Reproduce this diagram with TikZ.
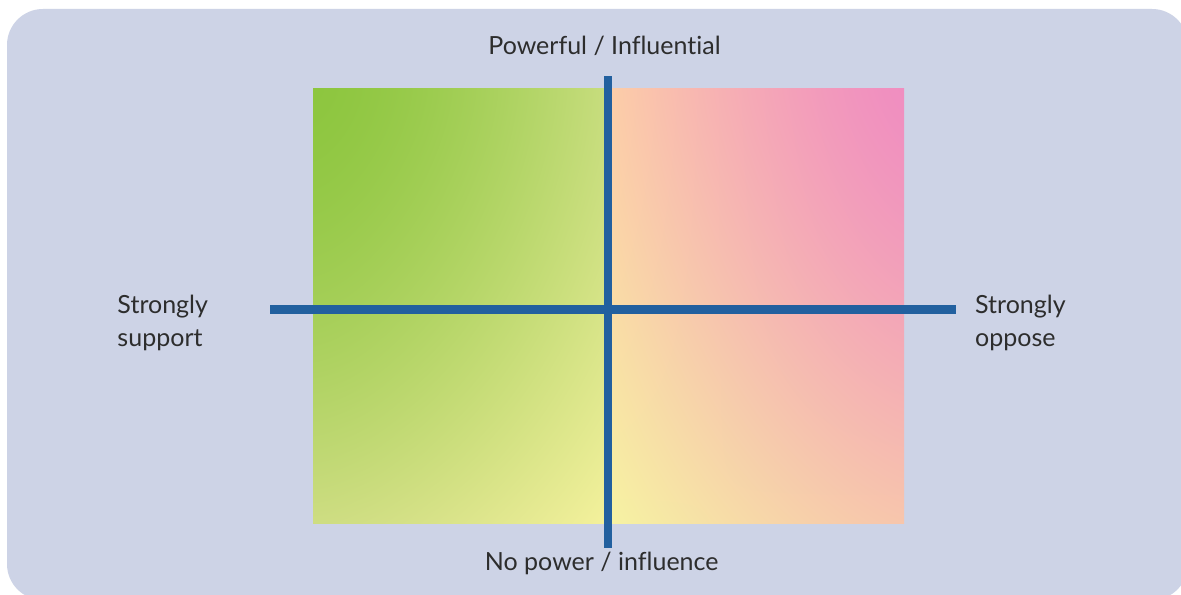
\documentclass[tikz,border=0pt]{standalone}
\usepackage{fontspec}
\setmainfont{Lato}[Ligatures={NoCommon,NoContextual}]
\definecolor{bgpanel}{RGB}{205,211,230}
\definecolor{axisblue}{RGB}{34,96,159}
\definecolor{labelgray}{RGB}{45,45,45}
% left half: bilinear (v = up, u = right), eased towards the green corner
\pgfdeclarefunctionalshading{leftquad}{\pgfpointorigin}{\pgfpoint{295bp}{435bp}}{}{
  435 div 1 exch sub abs 1.5 exp 1 exch sub exch 295 div abs 1.5 exp
  2 copy mul 0.082 mul 2 index -0.255 mul add 1 index 0.149 mul add 0.808 add 3 1 roll
  2 copy mul 0.013 mul 2 index -0.091 mul add 1 index 0.078 mul add 0.867 add 3 1 roll
  2 copy mul 0.145 mul 2 index -0.263 mul add 1 index 0.102 mul add 0.510 add 3 1 roll
  pop pop
}
\pgfdeclarefunctionalshading{rightquad}{\pgfpointorigin}{\pgfpoint{295bp}{435bp}}{}{
  435 div 1 exch sub abs 1.3 exp 1 exch sub exch 295 div 1 exch sub abs 1.3 exp 1 exch sub
  2 copy mul -0.051 mul 2 index 0.023 mul add 1 index 0.004 mul add 0.965 add 3 1 roll
  2 copy mul -0.074 mul 2 index -0.145 mul add 1 index -0.177 mul add 0.953 add 3 1 roll
  2 copy mul 0.054 mul 2 index 0.024 mul add 1 index 0.040 mul add 0.635 add 3 1 roll
  pop pop
}
\tikzset{
  axisline/.style={draw=axisblue, line width=8bp},
  lbl/.style={inner sep=0pt, text=labelgray, font=\fontsize{25bp}{32bp}\selectfont},
  shadebox/.style={inner sep=0pt, outer sep=0pt, anchor=north west}
}
\begin{document}
\begin{tikzpicture}[x=1bp, y=-1bp]
\useasboundingbox (0,0) rectangle (1181,595);
\fill[white] (0,0) rectangle (1181,595);
\begin{scope}
  \clip (0,0) rectangle (1181,595);
  \fill[bgpanel, rounded corners=36bp] (7,9) rectangle (1188,600);
\end{scope}
\node[shadebox] (lefthalf) at (312,88) {\pgfuseshading{leftquad}};
\node[shadebox] (righthalf) at (609,88) {\pgfuseshading{rightquad}};
\coordinate (vt) at (608,76.5);
\coordinate (vb) at (608,547.5);
\coordinate (hl) at (270,309.5);
\coordinate (hr) at (955.5,309.5);
\draw[axisline] (hl) -- (hr);
\draw[axisline] (vt) -- (vb);
\node[lbl, anchor=base] (top) at (604.5,54.3) {Powerful / Influent\kern0ptial};
\node[lbl, anchor=base] (bottom) at (601.7,570.7) {No power / influence};
\node[lbl, anchor=base west] (lsup1) at (117.3,313.3) {Strongly};
\node[lbl, anchor=base west] (lsup2) at (117.3,346.5) {support};
\node[lbl, anchor=base west] (ropp1) at (975,313.3) {Strongly};
\node[lbl, anchor=base west] (ropp2) at (975,346.5) {oppose};
\end{tikzpicture}
\end{document}
